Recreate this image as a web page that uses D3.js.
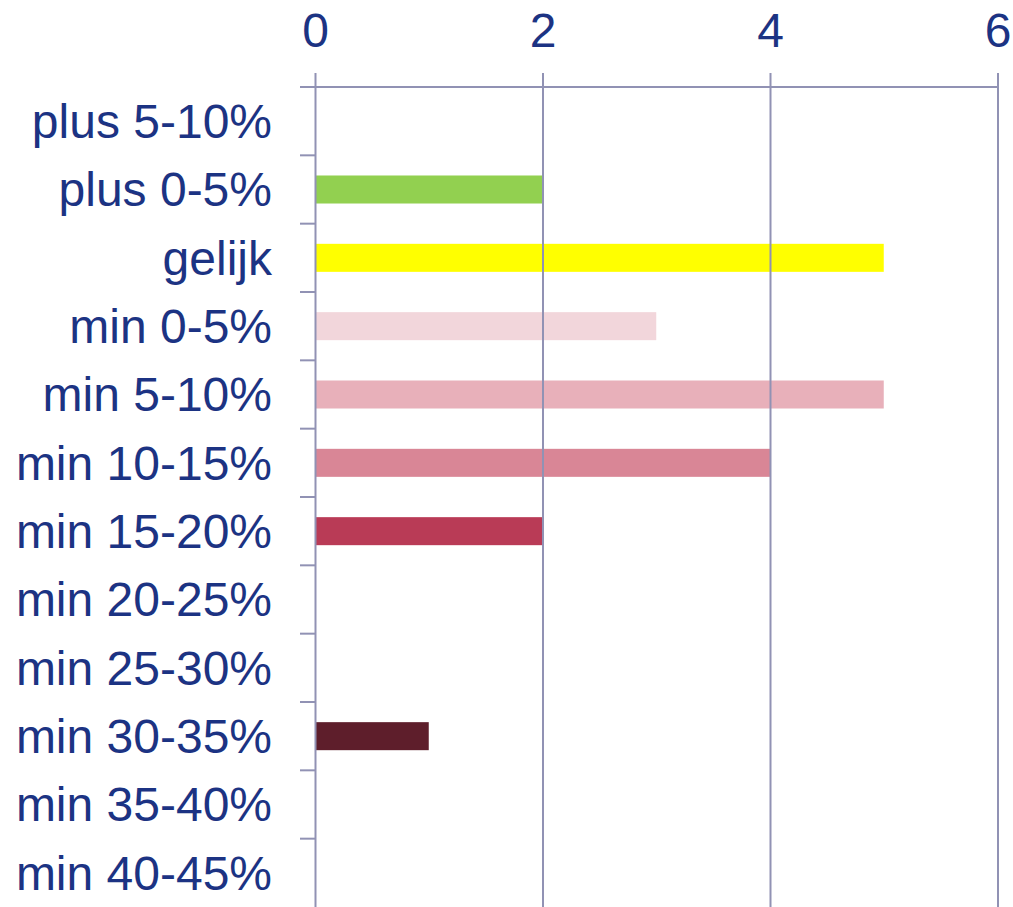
<!DOCTYPE html>
<html>
<head>
<meta charset="utf-8">
<script src="https://cdn.jsdelivr.net/npm/d3@7"></script>
<style>
  body { margin: 0; background: #fff; }
  text { font-family: "Liberation Sans", Arial, sans-serif; fill: #1c3383; }
</style>
</head>
<body>
<div id="vis1"></div>
<script>
const FRAME_WIDTH = 1013;
const FRAME_HEIGHT = 907;
const MARGINS = {left: 315, right: 15.5, top: 87, bottom: 0};

// data
const categories = ["plus 5-10%", "plus 0-5%", "gelijk", "min 0-5%", "min 5-10%", "min 10-15%",
  "min 15-20%", "min 20-25%", "min 25-30%", "min 30-35%", "min 35-40%", "min 40-45%"];
const values = [0, 2, 5, 3, 5, 4, 2, 0, 0, 1, 0, 0];
const barColors = ["#92d050", "#92d050", "#ffff00", "#f2d6db", "#e8b0ba", "#d98696",
  "#b93b56", "#8a2c3f", "#73263a", "#5e1e2b", "#4a1822", "#3a121b"];
const xTicks = [0, 2, 4, 6];

const GRID = "#9192b4";

const FRAME1 = d3.select("#vis1")
  .append("svg")
    .attr("width", FRAME_WIDTH)
    .attr("height", FRAME_HEIGHT);

const xScale = d3.scaleLinear()
  .domain([0, 6])
  .range([MARGINS.left, FRAME_WIDTH - MARGINS.right]);

const yScale = d3.scaleBand()
  .domain(categories)
  .range([MARGINS.top, FRAME_HEIGHT - MARGINS.bottom])
  .paddingInner(0.59)
  .paddingOuter(0.295);

const offset = (yScale.step() - yScale.bandwidth()) / 2;

// bars
FRAME1.selectAll(".bar")
  .data(categories)
  .enter()
  .append("rect")
    .attr("class", "bar")
    .attr("x", xScale(0) + 1)
    .attr("y", (d) => yScale(d))
    .attr("width", (d, i) => Math.max(0, xScale(values[i]) - xScale(0) - 1))
    .attr("height", yScale.bandwidth())
    .attr("fill", (d, i) => barColors[i]);

// top axis with gridlines running down
const xAxis = FRAME1.append("g")
  .attr("transform", "translate(0," + MARGINS.top + ")")
  .call(d3.axisTop(xScale).tickValues(xTicks).tickFormat(d3.format("d")).tickSizeOuter(0));

xAxis.select(".domain").remove();
xAxis.selectAll(".tick line")
  .attr("y1", FRAME_HEIGHT - MARGINS.top)
  .attr("y2", -14)
  .attr("stroke", GRID)
  .attr("stroke-width", 2);
xAxis.selectAll(".tick text")
  .attr("y", -40)
  .attr("dy", 0)
  .attr("font-size", 48)
  .style("font-family", "'Liberation Sans', Arial, sans-serif")
  .attr("fill", "#1c3383");

// horizontal top line
FRAME1.append("line")
  .attr("x1", xScale(0) - 15)
  .attr("x2", xScale(6))
  .attr("y1", MARGINS.top)
  .attr("y2", MARGINS.top)
  .attr("stroke", GRID)
  .attr("stroke-width", 2);

// left boundary ticks between categories
FRAME1.selectAll(".ytick")
  .data(categories.slice(1))
  .enter()
  .append("line")
    .attr("class", "ytick")
    .attr("x1", xScale(0) - 15)
    .attr("x2", xScale(0))
    .attr("y1", (d) => yScale(d) - offset)
    .attr("y2", (d) => yScale(d) - offset)
    .attr("stroke", GRID)
    .attr("stroke-width", 2);

// category labels
const yAxis = FRAME1.append("g")
  .attr("transform", "translate(" + MARGINS.left + ",0)")
  .call(d3.axisLeft(yScale).tickSize(0).tickPadding(43));

yAxis.select(".domain").remove();
yAxis.selectAll(".tick text")
  .attr("font-size", 48)
  .attr("dy", "0.35em")
  .style("font-family", "'Liberation Sans', Arial, sans-serif")
  .attr("fill", "#1c3383");
</script>
</body>
</html>
